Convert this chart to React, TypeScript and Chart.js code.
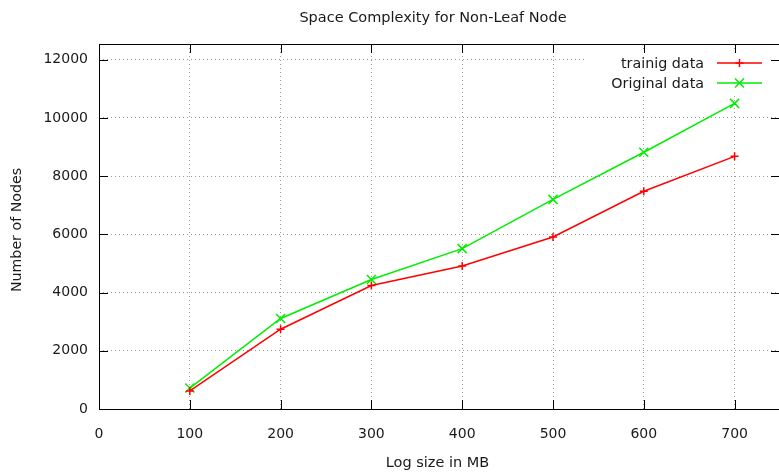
import React, { useEffect, useRef } from "react";
import { Chart, registerables } from "chart.js";

Chart.register(...registerables);

const chartTitle = "Space Complexity for Non-Leaf Node";
const xAxisTitle = "Log size in MB";
const yAxisTitle = "Number of Nodes";
const xValues = [100, 200, 300, 400, 500, 600, 700];
const trainingData = [620, 2740, 4240, 4910, 5910, 7480, 8680];
const originalData = [720, 3110, 4450, 5510, 7200, 8820, 10500];
const seriesLabels = ["trainig data", "Original data"];
const seriesColors = ["#ff0000", "#00ee00"];
const xTicks = [0, 100, 200, 300, 400, 500, 600, 700];
const yTicks = [0, 2000, 4000, 6000, 8000, 10000, 12000];

const FONT = "'DejaVu Sans', sans-serif";
const TEXT = "#1a1a1a";

const drawMarker = (ctx: CanvasRenderingContext2D, kind: string, cx: number, cy: number, r: number) => {
  ctx.beginPath();
  if (kind === "cross") {
    ctx.moveTo(cx - r, cy);
    ctx.lineTo(cx + r, cy);
    ctx.moveTo(cx, cy - r);
    ctx.lineTo(cx, cy + r);
  } else {
    ctx.moveTo(cx - r, cy - r);
    ctx.lineTo(cx + r, cy + r);
    ctx.moveTo(cx - r, cy + r);
    ctx.lineTo(cx + r, cy - r);
  }
  ctx.stroke();
};

const framePlugin = {
  id: "frame",
  beforeDraw(chart: any) {
    const ctx = chart.ctx;
    ctx.save();
    ctx.fillStyle = "#ffffff";
    ctx.fillRect(0, 0, chart.width, chart.height);
    ctx.restore();
  },
  afterDraw(chart: any) {
    const ctx: CanvasRenderingContext2D = chart.ctx;
    const { left, right, top, bottom } = chart.chartArea;
    const xs = chart.scales.x;
    const ys = chart.scales.y;
    ctx.save();

    // legend background
    ctx.fillStyle = "#ffffff";
    ctx.fillRect(587, 51, right - 587, 44);

    // border
    ctx.strokeStyle = "#000000";
    ctx.lineWidth = 1;
    ctx.strokeRect(Math.round(left) + 0.5, Math.round(top) + 0.5, Math.round(right - left), Math.round(bottom - top));

    // inward tick marks
    const tl = 9;
    ctx.beginPath();
    xs.ticks.forEach((t: any) => {
      const px = Math.round(xs.getPixelForValue(t.value)) + 0.5;
      ctx.moveTo(px, bottom);
      ctx.lineTo(px, bottom - tl);
      ctx.moveTo(px, top);
      ctx.lineTo(px, top + tl);
    });
    ys.ticks.forEach((t: any) => {
      const py = Math.round(ys.getPixelForValue(t.value)) + 0.5;
      ctx.moveTo(left, py);
      ctx.lineTo(left + tl, py);
      ctx.moveTo(right, py);
      ctx.lineTo(right - tl, py);
    });
    ctx.stroke();

    // title
    ctx.fillStyle = TEXT;
    ctx.font = `14.5px ${FONT}`;
    ctx.textAlign = "center";
    ctx.textBaseline = "middle";
    ctx.fillText(chartTitle, 433, 18);

    // axis titles
    ctx.font = `14.5px ${FONT}`;
    ctx.fillText(xAxisTitle, 437.5, 463);
    ctx.save();
    ctx.translate(17, 230);
    ctx.rotate(-Math.PI / 2);
    ctx.font = `14.2px ${FONT}`;
    ctx.fillText(yAxisTitle, 0, 0);
    ctx.restore();

    // legend
    const rows = [63, 83];
    const kinds = ["cross", "crossRot"];
    ctx.font = `14.3px ${FONT}`;
    ctx.textAlign = "right";
    rows.forEach((y, i) => {
      ctx.fillStyle = TEXT;
      ctx.fillText(seriesLabels[i], 704, y + 1);
      ctx.strokeStyle = seriesColors[i];
      ctx.lineWidth = 1.5;
      ctx.beginPath();
      ctx.moveTo(717, y);
      ctx.lineTo(762, y);
      ctx.stroke();
      drawMarker(ctx, kinds[i], 739.5, y, kinds[i] === "cross" ? 4 : 4.5);
    });

    ctx.restore();
  },
};

export default function App() {
  const canvasRef = useRef<HTMLCanvasElement | null>(null);

  useEffect(() => {
    const canvas = canvasRef.current;
    if (!canvas) return;
    const chart = new Chart(canvas, {
      type: "line",
      data: {
        datasets: [
          {
            label: seriesLabels[0],
            data: xValues.map((x, i) => ({ x, y: trainingData[i] })),
            borderColor: seriesColors[0],
            backgroundColor: seriesColors[0],
            borderWidth: 1.5,
            pointStyle: "cross",
            pointRadius: 4,
            pointBorderWidth: 1.5,
            pointBorderColor: seriesColors[0],
            tension: 0,
          },
          {
            label: seriesLabels[1],
            data: xValues.map((x, i) => ({ x, y: originalData[i] })),
            borderColor: seriesColors[1],
            backgroundColor: seriesColors[1],
            borderWidth: 1.5,
            pointStyle: "crossRot",
            pointRadius: 6.4,
            pointBorderWidth: 1.5,
            pointBorderColor: seriesColors[1],
            tension: 0,
          },
        ],
      },
      options: {
        responsive: false,
        animation: false,
        devicePixelRatio: 1,
        layout: { padding: { left: 0, top: 44, right: 10, bottom: 0 } },
        plugins: {
          legend: { display: false },
          title: { display: false },
          tooltip: { enabled: false },
        },
        scales: {
          x: {
            type: "linear",
            min: 0,
            max: 750,
            border: { display: false, dash: [1, 3] },
            grid: {
              color: "#9a9a9a",
              lineWidth: 1,
              drawTicks: false,
            },
            ticks: {
              autoSkip: false,
              padding: 17,
              color: TEXT,
              font: { family: FONT, size: 14 },
              maxRotation: 0,
              callback: (v: any) => String(v),
            },
            afterBuildTicks: (s: any) => {
              s.ticks = xTicks.map((v) => ({ value: v }));
            },
            afterFit: (s: any) => {
              s.height = 67;
            },
          },
          y: {
            type: "linear",
            min: 0,
            max: 12540,
            border: { display: false, dash: [1, 3] },
            grid: {
              color: "#9a9a9a",
              lineWidth: 1,
              drawTicks: false,
            },
            ticks: {
              autoSkip: false,
              padding: 11,
              color: TEXT,
              font: { family: FONT, size: 14 },
              callback: (v: any) => String(v),
            },
            afterBuildTicks: (s: any) => {
              s.ticks = yTicks.map((v) => ({ value: v }));
            },
            afterFit: (s: any) => {
              s.width = 99;
            },
          },
        },
      },
      plugins: [framePlugin],
    } as any);
    return () => chart.destroy();
  }, []);

  return (
    <div style={{ position: "fixed", left: 0, top: 0, width: 779, height: 476, overflow: "hidden", background: "#fff" }}>
      <canvas ref={canvasRef} width={790} height={476} style={{ width: 790, height: 476, display: "block" }} />
    </div>
  );
}
